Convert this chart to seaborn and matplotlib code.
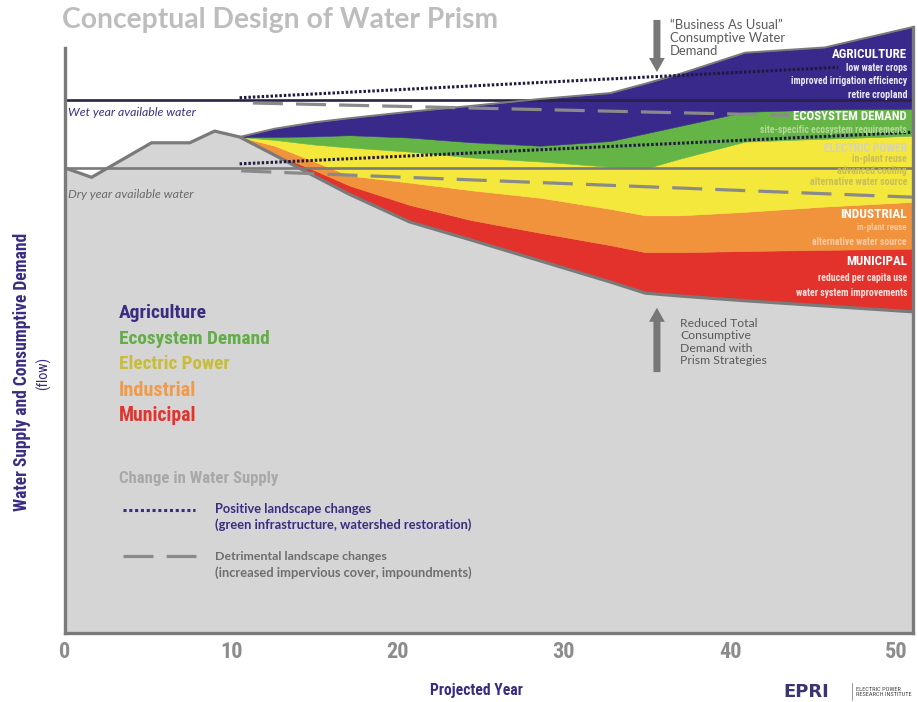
import numpy as np
import matplotlib
matplotlib.use("Agg")
import matplotlib.pyplot as plt
from matplotlib import font_manager as fm
from matplotlib.lines import Line2D
from matplotlib.ticker import MultipleLocator
import seaborn as sns

# ---------------- data (x: projected year, y: flow index) ----------------
supply_years = [0, 1.6, 5.2, 7.5, 9.0, 10.5]
supply_flow = [79.5, 77.9, 83.8, 83.8, 85.8, 84.8]

years = [10.5, 12.6, 15.0, 17.1, 20.7, 24.4, 28.6, 32.8, 34.9, 37.0, 40.9, 45.7, 51.0]
reduced_demand = [84.8, 81.7, 78.1, 75.0, 70.3, 67.2, 63.6, 60.0, 58.1, 57.6, 56.8, 55.9, 54.9]
municipal = [0, 0.2, 1.0, 1.5, 2.9, 3.4, 4.8, 6.3, 7.0, 7.5, 8.5, 9.6, 10.8]
industrial = [0, 1.4, 1.5, 1.7, 3.8, 5.1, 6.0, 6.2, 6.3, 6.3, 6.7, 7.4, 8.0]
electric = [0, 1.0, 2.9, 4.8, 5.3, 5.6, 6.2, 7.2, 8.0, 9.7, 12.0, 11.6, 11.3]
ecosystem = [0, 0.5, 1.4, 2.1, 2.4, 2.6, 2.7, 4.4, 6.0, 5.6, 5.1, 5.0, 4.6]
agriculture = [0, 1.4, 2.4, 2.9, 4.4, 6.2, 8.0, 8.2, 8.5, 8.9, 10.1, 10.6, 14.0]

wet_year = 91.1
dry_year = 79.5

positive_upper_x, positive_upper_y = [10.5, 46.5], [91.5, 96.7]
positive_lower_x, positive_lower_y = [10.5, 51.0], [80.2, 85.6]
detrimental_upper_x, detrimental_upper_y = [11.3, 43.6], [90.6, 88.5]
detrimental_lower_x, detrimental_lower_y = [10.6, 51.0], [79.0, 74.5]

bau_arrow = (35.6, 104.8, 95.9)      # x, tail, tip
prism_arrow = (35.6, 44.6, 55.6)

sectors = ["Agriculture", "Ecosystem Demand", "Electric Power", "Industrial", "Municipal"]
x_ticks = [0, 10, 20, 30, 40, 50]

# ---------------- style ----------------
sns.set_theme(style="white")


def pick_narrow():
    entries = fm.fontManager.ttflist
    names = {f.name for f in entries}
    for n in ["Liberation Sans Narrow", "Roboto Condensed", "Open Sans Condensed",
              "Noto Sans Condensed", "DejaVu Sans Condensed", "Arial Narrow"]:
        if n in names:
            return n, "normal"
    for n in ["DejaVu Sans", "Noto Sans", "Roboto", "Open Sans"]:
        if any(f.name == n and str(f.stretch) in ("condensed", "semi-condensed",
                                                    "extra-condensed") for f in entries):
            return n, "condensed"
    for n in ["Roboto", "Liberation Sans"]:
        if n in names:
            return n, "normal"
    return "DejaVu Sans", "normal"


NARROW, STRETCH = pick_narrow()
HUMAN = "Lato" if "Lato" in {f.name for f in fm.fontManager.ttflist} else "DejaVu Sans"
plt.rcParams["font.family"] = [NARROW, "DejaVu Sans"]

PURPLE = "#38298a"
GREEN = "#64b446"
YELLOW = "#f5e83c"
ORANGE = "#f1923c"
RED = "#e2322b"
FILL_GRAY = "#d5d5d5"
LINE_GRAY = "#7a7a7a"
NAVY = "#3a2c80"

W, H = 918, 702
fig = plt.figure(figsize=(W / 100, H / 100), dpi=100, facecolor="white")
ax = fig.add_axes([65 / W, 1 - 633 / H, (913 - 65) / W, (633 - 10) / H])
ax.set_xlim(0, 51)
ax.set_ylim(0, 106.5)
ax.set_facecolor("none")


def fx(px):
    return px / W


def fy(py):
    return 1 - py / H


# supply (grey ground) area
ground_x = supply_years + years[1:]
ground_y = supply_flow + reduced_demand[1:]
ax.fill_between(ground_x, 0, ground_y, color=FILL_GRAY, lw=0, zorder=1)

# stacked sector demand
base = np.array(reduced_demand, dtype=float)
for vals, col in [(municipal, RED), (industrial, ORANGE), (electric, YELLOW),
                  (ecosystem, GREEN), (agriculture, PURPLE)]:
    top = base + np.array(vals)
    ax.fill_between(years, base, top, color=col, edgecolor=col, lw=0.4, zorder=2)
    base = top
total_demand = base

# available water reference lines
ax.axhline(dry_year, color=LINE_GRAY, lw=1.9, zorder=5)
ax.axhline(wet_year, color="#2a2444", lw=1.9, zorder=5)

# outlines
sns.lineplot(x=ground_x, y=ground_y, sort=False, color=LINE_GRAY, lw=2.3, ax=ax, zorder=6)
sns.lineplot(x=years, y=total_demand, sort=False, color=LINE_GRAY, lw=1.4, ax=ax, zorder=6)

# change in water supply lines
dot_kw = dict(color="#1f1840", lw=2.2, dashes=(0.8, 0.65), dash_capstyle="butt", zorder=7)
dash_kw = dict(color="#8a8a8a", lw=2.3, dashes=(9.4, 4.1), dash_capstyle="butt", zorder=7)
ax.plot(positive_upper_x, positive_upper_y, **dot_kw)
ax.plot(positive_lower_x, positive_lower_y, **dot_kw)
ax.plot(detrimental_upper_x, detrimental_upper_y, **dash_kw)
ax.plot(detrimental_lower_x, detrimental_lower_y, **dash_kw)

# arrows
for xa, tail, tip in [bau_arrow, prism_arrow]:
    ax.arrow(xa, tail, 0, tip - tail, width=0.42, head_width=0.95, head_length=2.4,
             length_includes_head=True, color="#777777", lw=0, zorder=8)

# axes frame
ax.spines["top"].set_visible(False)
for s in ["left", "right", "bottom"]:
    ax.spines[s].set_color(LINE_GRAY)
    ax.spines[s].set_linewidth(2.4)
    ax.spines[s].set_zorder(9)
ax.spines["left"].set_bounds(0, 100)
ax.spines["right"].set_bounds(0, total_demand[-1])

ax.set_xticks(x_ticks)
ax.set_xticklabels([str(t) for t in x_ticks])
ax.xaxis.set_minor_locator(MultipleLocator(1))
ax.tick_params(axis="x", which="both", direction="in", length=7.5, width=0.8,
               color="#9a9a9a", bottom=True, pad=6, labelsize=16, labelcolor="#8c8c8c")
for lab in ax.get_xticklabels():
    lab.set_fontstretch(STRETCH)
    lab.set_fontweight("bold")
ax.set_yticks([])
ax.set_xlabel("")
ax.set_ylabel("")

# ---------------- text ----------------
to_fit = []


def label(px, py, s, width=None, vertical=False, narrow=True, **kw):
    if narrow:
        kw.setdefault("family", [NARROW, "DejaVu Sans"])
        kw.setdefault("fontstretch", STRETCH)
    else:
        kw.setdefault("family", [HUMAN, "DejaVu Sans"])
    kw.setdefault("va", "center")
    t = fig.text(fx(px), fy(py), s, **kw)
    if width is not None:
        to_fit.append((t, width, vertical))
    return t


label(62, 20, "Conceptual Design of Water Prism", width=438, narrow=False,
      fontweight="bold", fontsize=18.5, color="#bdbdbd")

label(68, 113, "Wet year available water", width=127, narrow=False,
      style="italic", fontsize=9, color="#3a3080")
label(68, 195, "Dry year available water", width=126, narrow=False,
      style="italic", fontsize=9, color="#6a6a6a")

label(670, 38, "\u201cBusiness As Usual\u201d\nConsumptive Water\nDemand", width=116,
      narrow=False, fontsize=9.5, color="#5a5a5a", linespacing=1.1)
label(680, 342, "Reduced Total\nConsumptive\nDemand with\nPrism Strategies", width=88,
      narrow=False, fontsize=9.5, color="#5a5a5a", linespacing=1.18)

right_labels = [
    ("AGRICULTURE", 55, "white", 75),
    ("low water crops", 68, "#ebe8f5", 61),
    ("improved irrigation efficiency", 81.5, "#ebe8f5", 116),
    ("retire cropland", 95, "#ebe8f5", 59),
    ("ECOSYSTEM DEMAND", 117, "white", 114),
    ("site-specific ecosystem requirements", 130, "#b3da98", 145),
    ("ELECTRIC POWER", 148, "#d4d2c4", 84),
    ("in-plant reuse", 159, "#c7be5a", 55),
    ("advanced cooling", 170.5, "#c7be5a", 69),
    ("alternative water source", 182, "#c7be5a", 97),
    ("INDUSTRIAL", 215, "white", 67),
    ("in-plant reuse", 228, "#fbc9a2", 50),
    ("alternative water source", 242, "#fbc9a2", 95),
    ("MUNICIPAL", 262, "white", 61),
    ("reduced per capita use", 278, "#fde3df", 89),
    ("water system improvements", 293, "#fde3df", 112),
]
for txt, py, col, wpx in right_labels:
    label(907, py, txt, width=wpx, fontsize=9, fontweight="bold", color=col,
          ha="right", zorder=10)

legend_colors = [NAVY, "#62ae46", "#c9bc36", "#f29a46", "#e2342f"]
legend_widths = [88, 152, 111, 78, 78]
for i, (name, col, wpx) in enumerate(zip(sectors, legend_colors, legend_widths)):
    label(119, 313 + i * 25.7, name, width=wpx, fontsize=14, fontweight="bold", color=col)

label(119, 478, "Change in Water Supply", width=160, fontsize=12.5, fontweight="bold",
      color="#a8a8a8")

fig.add_artist(Line2D([fx(123), fx(195)], [fy(510), fy(510)], color=NAVY, lw=2.2,
                      dashes=(1.0, 0.9), dash_capstyle="butt"))
fig.add_artist(Line2D([fx(123), fx(196)], [fy(556), fy(556)], color="#8a8a8a", lw=2.3,
                      dashes=(9.4, 4.1), dash_capstyle="butt"))
label(215, 509, "Positive landscape changes", width=158, narrow=False,
      fontsize=8, fontweight="bold", color=NAVY)
label(215, 525, "(green infrastructure, watershed restoration)", width=258, narrow=False,
      fontsize=8, fontweight="bold", color=NAVY)
label(215, 557, "Detrimental landscape changes", width=173, narrow=False,
      fontsize=8, fontweight="bold", color="#6e6e6e")
label(215, 573, "(increased impervious cover, impoundments)", width=257, narrow=False,
      fontsize=8, fontweight="bold", color="#6e6e6e")

label(22, 372, "Water Supply and Consumptive Demand", width=279, vertical=True,
      rotation=90, fontsize=12.5, fontweight="bold", color=NAVY, ha="center")
label(43, 373, "(flow)", width=33, vertical=True, rotation=90, fontsize=8.5,
      color=NAVY, ha="center")
label(476, 691, "Projected Year", width=93, fontsize=11.5, fontweight="bold",
      color=NAVY, ha="center")

# organisation mark
label(806, 692, "EPRI", narrow=False, family=["DejaVu Sans"], fontsize=13,
      fontweight="bold", color="#3a3470", ha="center")
fig.add_artist(Line2D([fx(852), fx(852)], [fy(683), fy(700)], color="#888888", lw=0.6))
label(856, 692, "ELECTRIC POWER\nRESEARCH INSTITUTE", width=58, fontsize=4.2,
      color="#444444", linespacing=1.2)

# scale each text so its drawn length matches the layout
renderer = fig.canvas.get_renderer()
for t, target, vertical in to_fit:
    bb = t.get_window_extent(renderer)
    size = bb.height if vertical else bb.width
    if size > 0:
        t.set_fontsize(t.get_fontsize() * target / size)

fig.savefig("out.png", dpi=100, facecolor="white")
